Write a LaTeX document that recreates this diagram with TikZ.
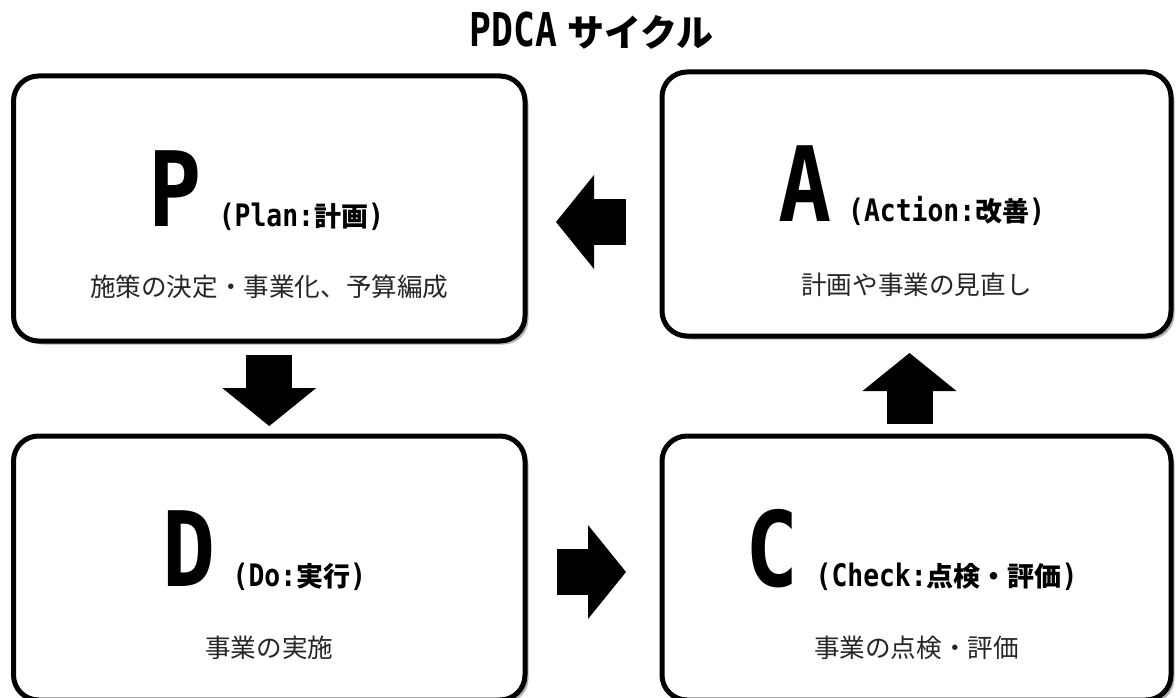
\documentclass[tikz,border=0pt]{standalone}
\usepackage{fontspec}
\usetikzlibrary{arrows.meta,shadows,positioning}
\newfontfamily\jpfont{Noto Sans CJK JP}
\newfontfamily\latfont[FakeStretch=0.85]{DejaVu Sans Mono}
\newfontfamily\biglat[FakeStretch=0.85]{DejaVu Sans Mono}
\newfontfamily\titlelat[FakeStretch=0.78]{DejaVu Sans Mono}
\newcommand{\phasehead}[3]{{\biglat\fontsize{104}{104}\selectfont #1}\hspace{17pt}{\latfont\fontsize{31}{31}\selectfont(#2:}#3{\latfont\fontsize{31}{31}\selectfont)}}
\tikzset{
	phase/.style={draw, line width=5pt, rounded corners=25pt, fill=white, outer sep=0pt, inner sep=0pt,
		drop shadow={shadow xshift=3.5pt, shadow yshift=-3.5pt, fill=black!50, opacity=.6}},
	head/.style={anchor=base, inner sep=0pt, font=\jpfont\bfseries\fontsize{27}{27}\selectfont},
	sub/.style={inner sep=0pt, text=black!85, font=\jpfont\fontsize{25.6}{26}\selectfont},
	flow/.style={line width=46pt, -{Triangle[width=94pt, length=38pt, line width=0pt]}},
}
\begin{document}
\begin{tikzpicture}[x=1pt, y=-1pt]
	\clip[use as bounding box] (0,0) rectangle (1176,698);
	
	\node[anchor=base, inner sep=0pt] (title) at (591.5,47) {{\titlelat\bfseries\fontsize{46.6}{47}\selectfont PDCA}\hspace{10pt}{\jpfont\bfseries\fontsize{37}{37}\selectfont サイクル}};
	
	% the four phases
	\node[phase, minimum width=511.5pt, minimum height=265pt] (P) at (269.25,208.5) {};
	\node[phase, minimum width=509pt, minimum height=264pt] (A) at (916.5,204) {};
	\node[phase, minimum width=511.5pt, minimum height=264pt] (D) at (269.25,568) {};
	\node[phase, minimum width=509pt, minimum height=264pt] (C) at (916.5,568) {};
	
	\node[head] (Ph) at ([xshift=-3pt, yshift=-150pt]P.north) {\phasehead{P}{Plan}{計画}};
	\node[sub] (Ps) at ([yshift=-211pt]P.north) {施策の決定・事業化、予算編成};
	\node[head] (Ah) at ([xshift=-5pt, yshift=-150pt]A.north) {\phasehead{A}{Action}{改善}};
	\node[sub] (As) at ([yshift=-213pt]A.north) {計画や事業の見直し};
	\node[head] (Dh) at ([xshift=-5pt, yshift=-150pt]D.north) {\phasehead{D}{Do}{実行}};
	\node[sub] (Ds) at ([yshift=-212pt]D.north) {事業の実施};
	\node[head] (Ch) at ([xshift=-5pt, yshift=-150pt]C.north) {\phasehead{C}{Check}{点検・評価}};
	\node[sub] (Cs) at ([yshift=-212pt]C.north) {事業の点検・評価};
	
	% block arrows
	\coordinate (al) at ([yshift=-18pt]A.west);
	\coordinate (dr) at ([yshift=-4pt]D.east);
	\draw[flow, shorten <=14pt, shorten >=10pt] (P.south) -- (D.north);
	\draw[flow, shorten <=32pt, shorten >=36pt] (dr) -- (dr -| C.west);
	\draw[flow, shorten <=12pt, shorten >=17pt] ([xshift=-7pt]C.north) -- ([xshift=-7pt]A.south);
	\draw[flow, shorten <=36pt, shorten >=31pt] (al) -- (al -| P.east);
\end{tikzpicture}
\end{document}
